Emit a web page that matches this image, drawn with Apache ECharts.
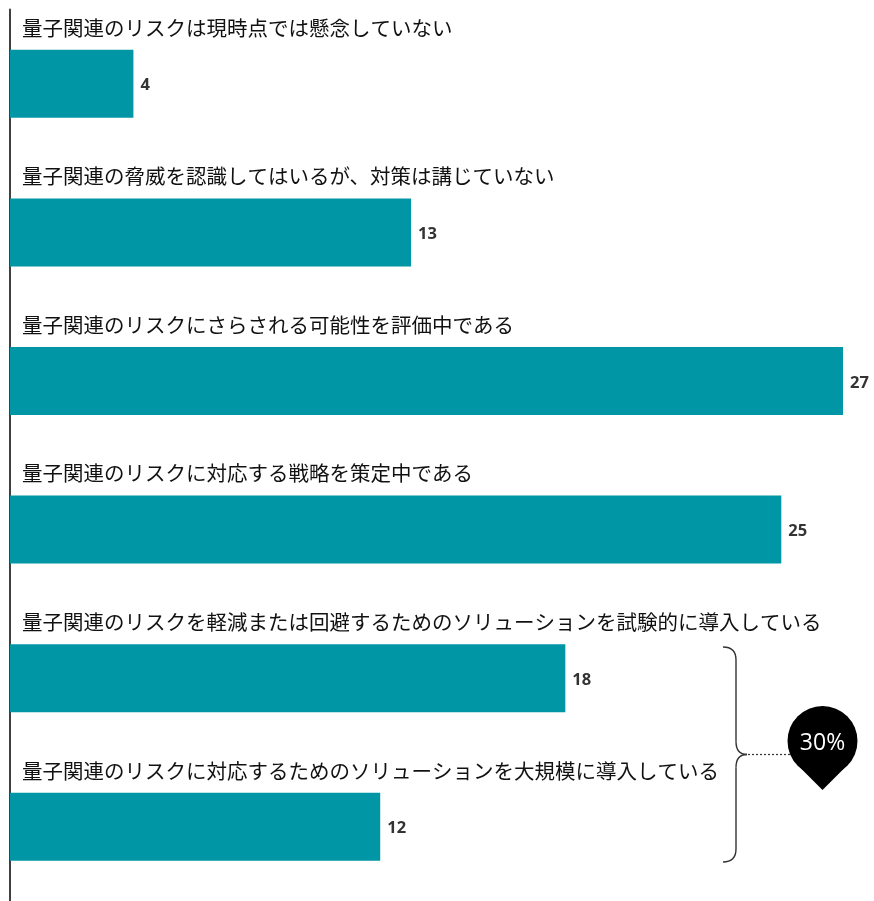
<!DOCTYPE html>
<html>
<head>
<meta charset="utf-8">
<script src="https://cdn.jsdelivr.net/npm/echarts@6/dist/echarts.min.js"></script>
<style>
  html, body { margin: 0; padding: 0; background: #ffffff; }
  #chart { width: 874px; height: 901px; }
</style>
</head>
<body>
<div id="chart"></div>
<script>
// Survey answers (top to bottom) and their shares in percent
const categories = [
  '量子関連のリスクは現時点では懸念していない',
  '量子関連の脅威を認識してはいるが、対策は講じていない',
  '量子関連のリスクにさらされる可能性を評価中である',
  '量子関連のリスクに対応する戦略を策定中である',
  '量子関連のリスクを軽減または回避するためのソリューションを試験的に導入している',
  '量子関連のリスクに対応するためのソリューションを大規模に導入している'
];
const values = [4, 13, 27, 25, 18, 12];

// The last two answers are grouped by a brace and their combined share
const groupedIdx = [4, 5];
const groupedTotal = groupedIdx.reduce((s, i) => s + values[i], 0);

const BAR_COLOR = '#0096A6';
const CJK_FONT = '"Noto Sans CJK JP", "Noto Sans", sans-serif';
const BRACE_STYLE = { fill: null, stroke: '#333333', lineWidth: 1.4 };

const chart = echarts.init(document.getElementById('chart'), null, { renderer: 'canvas' });

// curly brace: two quadratic hooks at the ends, two at the middle point
function braceParts(x, top, bottom, depth, tip) {
  const mid = (top + bottom) / 2;
  const r = 13;
  const seg = (x1, y1, x2, y2) => ({ type: 'line', shape: { x1, y1, x2, y2 }, style: BRACE_STYLE });
  const curve = (x1, y1, x2, y2, cpx1, cpy1) => ({
    type: 'bezierCurve', shape: { x1, y1, x2, y2, cpx1, cpy1 }, style: BRACE_STYLE
  });
  return [
    curve(x - depth, top, x, top + r, x, top),
    seg(x, top + r, x, mid - r),
    curve(x, mid - r, x + tip, mid, x, mid),
    curve(x + tip, mid, x, mid + r, x, mid),
    seg(x, mid + r, x, bottom - r),
    curve(x, bottom - r, x - depth, bottom, x, bottom)
  ];
}

const option = {
  backgroundColor: '#ffffff',
  animation: false,
  grid: { left: 10, top: 9.5, width: 833, height: 894, containLabel: false },
  xAxis: {
    type: 'value',
    min: 0,
    max: 27,
    show: false
  },
  yAxis: {
    type: 'category',
    data: categories,
    inverse: true,
    axisLine: { show: true, lineStyle: { color: '#404040', width: 2 } },
    axisTick: { show: false },
    axisLabel: { show: false },
    splitLine: { show: false }
  },
  series: [
    {
      // value bars
      type: 'bar',
      data: values,
      barWidth: 68,
      itemStyle: { color: BAR_COLOR },
      label: {
        show: true,
        position: 'right',
        distance: 7,
        color: '#333333',
        fontFamily: '"Open Sans", sans-serif',
        fontWeight: 'bold',
        fontSize: 16.5,
        offset: [0, 2]
      },
      z: 2
    },
    {
      // category captions sitting above each bar
      type: 'bar',
      data: values,
      barWidth: 68,
      barGap: '-100%',
      silent: true,
      itemStyle: { color: 'rgba(0,0,0,0)' },
      label: {
        show: true,
        position: [12, -22],
        verticalAlign: 'middle',
        align: 'left',
        formatter: p => p.name,
        color: '#111111',
        fontFamily: CJK_FONT,
        fontSize: 20.5
      },
      z: 3
    }
  ],
  graphic: [
    {
      type: 'group',
      children: braceParts(736, 647, 862, 13, 11)
    },
    {
      type: 'line',
      shape: { x1: 748, y1: 754.5, x2: 792, y2: 754.5 },
      style: { stroke: '#333333', lineWidth: 1.2, lineDash: [2, 2] }
    },
    {
      // map-pin marker with the combined share
      type: 'group',
      children: [
        { type: 'circle', shape: { cx: 822.5, cy: 741, r: 35 }, style: { fill: '#000000' } },
        { type: 'polygon', shape: { points: [[797.5, 765], [847.5, 765], [822.5, 790]] }, style: { fill: '#000000' } },
        {
          type: 'text',
          x: 822.5,
          y: 743,
          style: {
            text: groupedTotal + '%',
            fill: '#ffffff',
            fontFamily: '"Open Sans", sans-serif',
            fontSize: 23,
            align: 'center',
            verticalAlign: 'middle'
          }
        }
      ]
    }
  ]
};

chart.setOption(option);
</script>
</body>
</html>
